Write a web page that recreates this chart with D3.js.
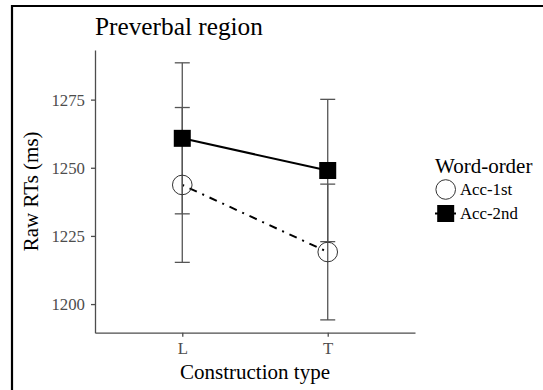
<!DOCTYPE html>
<html>
<head>
<meta charset="utf-8">
<script src="https://cdn.jsdelivr.net/npm/d3@7"></script>
<style>
  html, body { margin: 0; padding: 0; background: #fff; }
  svg { display: block; font-family: "Liberation Serif", "Times New Roman", serif; }
</style>
</head>
<body>
<svg id="chart" width="543" height="390"></svg>
<script>
// Construction types on the x axis
const categories = ["L", "T"];
// Word-order conditions
const series = ["Acc-1st", "Acc-2nd"];
// Mean raw reading times (ms) and error-bar half widths per construction type
const acc1stMeans = [1243.7, 1219.1];
const acc1stErr = [28.4, 24.9];
const acc2ndMeans = [1260.8, 1249.0];
const acc2ndErr = [27.7, 26.1];
// Y axis ticks
const yTicks = [1200, 1225, 1250, 1275];

const svg = d3.select("#chart");

const plot = { left: 95, right: 415, top: 50, bottom: 332.7 };

const x = d3.scalePoint()
  .domain(categories)
  .range([plot.left, plot.right])
  .padding(0.6);

const y = d3.scaleLinear()
  .domain([1189.5, 1293.2])
  .range([plot.bottom, plot.top]);

const data = series.map((name, i) => {
  const means = i === 0 ? acc1stMeans : acc2ndMeans;
  const errs = i === 0 ? acc1stErr : acc2ndErr;
  return {
    name,
    points: categories.map((c, j) => ({ cat: c, mean: means[j], err: errs[j] }))
  };
});

// Outer frame (top and left edges)
svg.append("line").attr("x1", 11).attr("x2", 543).attr("y1", 6).attr("y2", 6)
  .attr("stroke", "#000").attr("stroke-width", 2.2);
svg.append("line").attr("x1", 12).attr("x2", 12).attr("y1", 5).attr("y2", 390)
  .attr("stroke", "#000").attr("stroke-width", 2.2);

// Title
svg.append("text")
  .attr("x", plot.left).attr("y", 35)
  .attr("font-size", 25.3).attr("fill", "#000")
  .text("Preverbal region");

// Axes
const axisColor = "#4d4d4d";
const yAxis = svg.append("g")
  .attr("transform", `translate(${plot.left},0)`)
  .call(d3.axisLeft(y).tickValues(yTicks).tickSize(4).tickSizeOuter(0).tickPadding(6).tickFormat(d3.format("d")));
const xAxis = svg.append("g")
  .attr("transform", `translate(0,${plot.bottom})`)
  .call(d3.axisBottom(x).tickSize(4).tickSizeOuter(0).tickPadding(5.4));

[yAxis, xAxis].forEach(g => {
  g.attr("font-family", null).attr("font-size", 16.8);
  g.select(".domain").attr("stroke", axisColor).attr("stroke-width", 1.3);
  g.selectAll(".tick line").attr("stroke", axisColor).attr("stroke-width", 1.3);
  g.selectAll(".tick text").attr("fill", axisColor);
});

// Axis titles
svg.append("text")
  .attr("x", (plot.left + plot.right) / 2).attr("y", 378.5)
  .attr("text-anchor", "middle").attr("font-size", 21).attr("fill", "#000")
  .text("Construction type");
svg.append("text")
  .attr("transform", `translate(38,${(plot.top + plot.bottom) / 2}) rotate(-90)`)
  .attr("text-anchor", "middle").attr("font-size", 21).attr("fill", "#000")
  .text("Raw RTs (ms)");

// Connecting lines
const dashFor = name => name === "Acc-1st" ? "2,6,8,6" : null;
const line = d3.line().x(d => x(d.cat)).y(d => y(d.mean));
svg.append("g").selectAll("path")
  .data(data)
  .join("path")
  .attr("d", d => line(d.points))
  .attr("fill", "none")
  .attr("stroke", "#000")
  .attr("stroke-width", 2)
  .attr("stroke-dasharray", d => dashFor(d.name));

// Error bars
const capHalf = 7.5;
const eb = svg.append("g").attr("stroke", "#555").attr("stroke-width", 1.3);
data.forEach(s => {
  s.points.forEach(p => {
    const cx = x(p.cat);
    const yHi = y(p.mean + p.err), yLo = y(p.mean - p.err);
    eb.append("line").attr("x1", cx).attr("x2", cx).attr("y1", yHi).attr("y2", yLo);
    eb.append("line").attr("x1", cx - capHalf).attr("x2", cx + capHalf).attr("y1", yHi).attr("y2", yHi);
    eb.append("line").attr("x1", cx - capHalf).attr("x2", cx + capHalf).attr("y1", yLo).attr("y2", yLo);
  });
});

// Points
const sq = 17;
const drawMarker = (g, name, cx, cy) => {
  if (name === "Acc-1st") {
    g.append("circle").attr("cx", cx).attr("cy", cy).attr("r", 9.8)
      .attr("fill", "none").attr("stroke", "#333").attr("stroke-width", 1);
  } else {
    g.append("rect").attr("x", cx - sq / 2).attr("y", cy - sq / 2)
      .attr("width", sq).attr("height", sq).attr("fill", "#000");
  }
};
const pts = svg.append("g");
data.forEach(s => s.points.forEach(p => drawMarker(pts, s.name, x(p.cat), y(p.mean))));

// Legend
const legend = svg.append("g");
legend.append("text").attr("x", 435).attr("y", 172.5)
  .attr("font-size", 21).attr("fill", "#000").text("Word-order");
series.forEach((name, i) => {
  const cy = 189.5 + i * 24;
  if (name === "Acc-2nd") {
    legend.append("line").attr("x1", 435).attr("x2", 456).attr("y1", cy).attr("y2", cy)
      .attr("stroke", "#000").attr("stroke-width", 2);
  }
  drawMarker(legend, name, 445.7, cy);
  legend.append("text").attr("x", 460).attr("y", cy + 5.7)
    .attr("font-size", 16.8).attr("fill", "#000").text(name);
});
</script>
</body>
</html>
